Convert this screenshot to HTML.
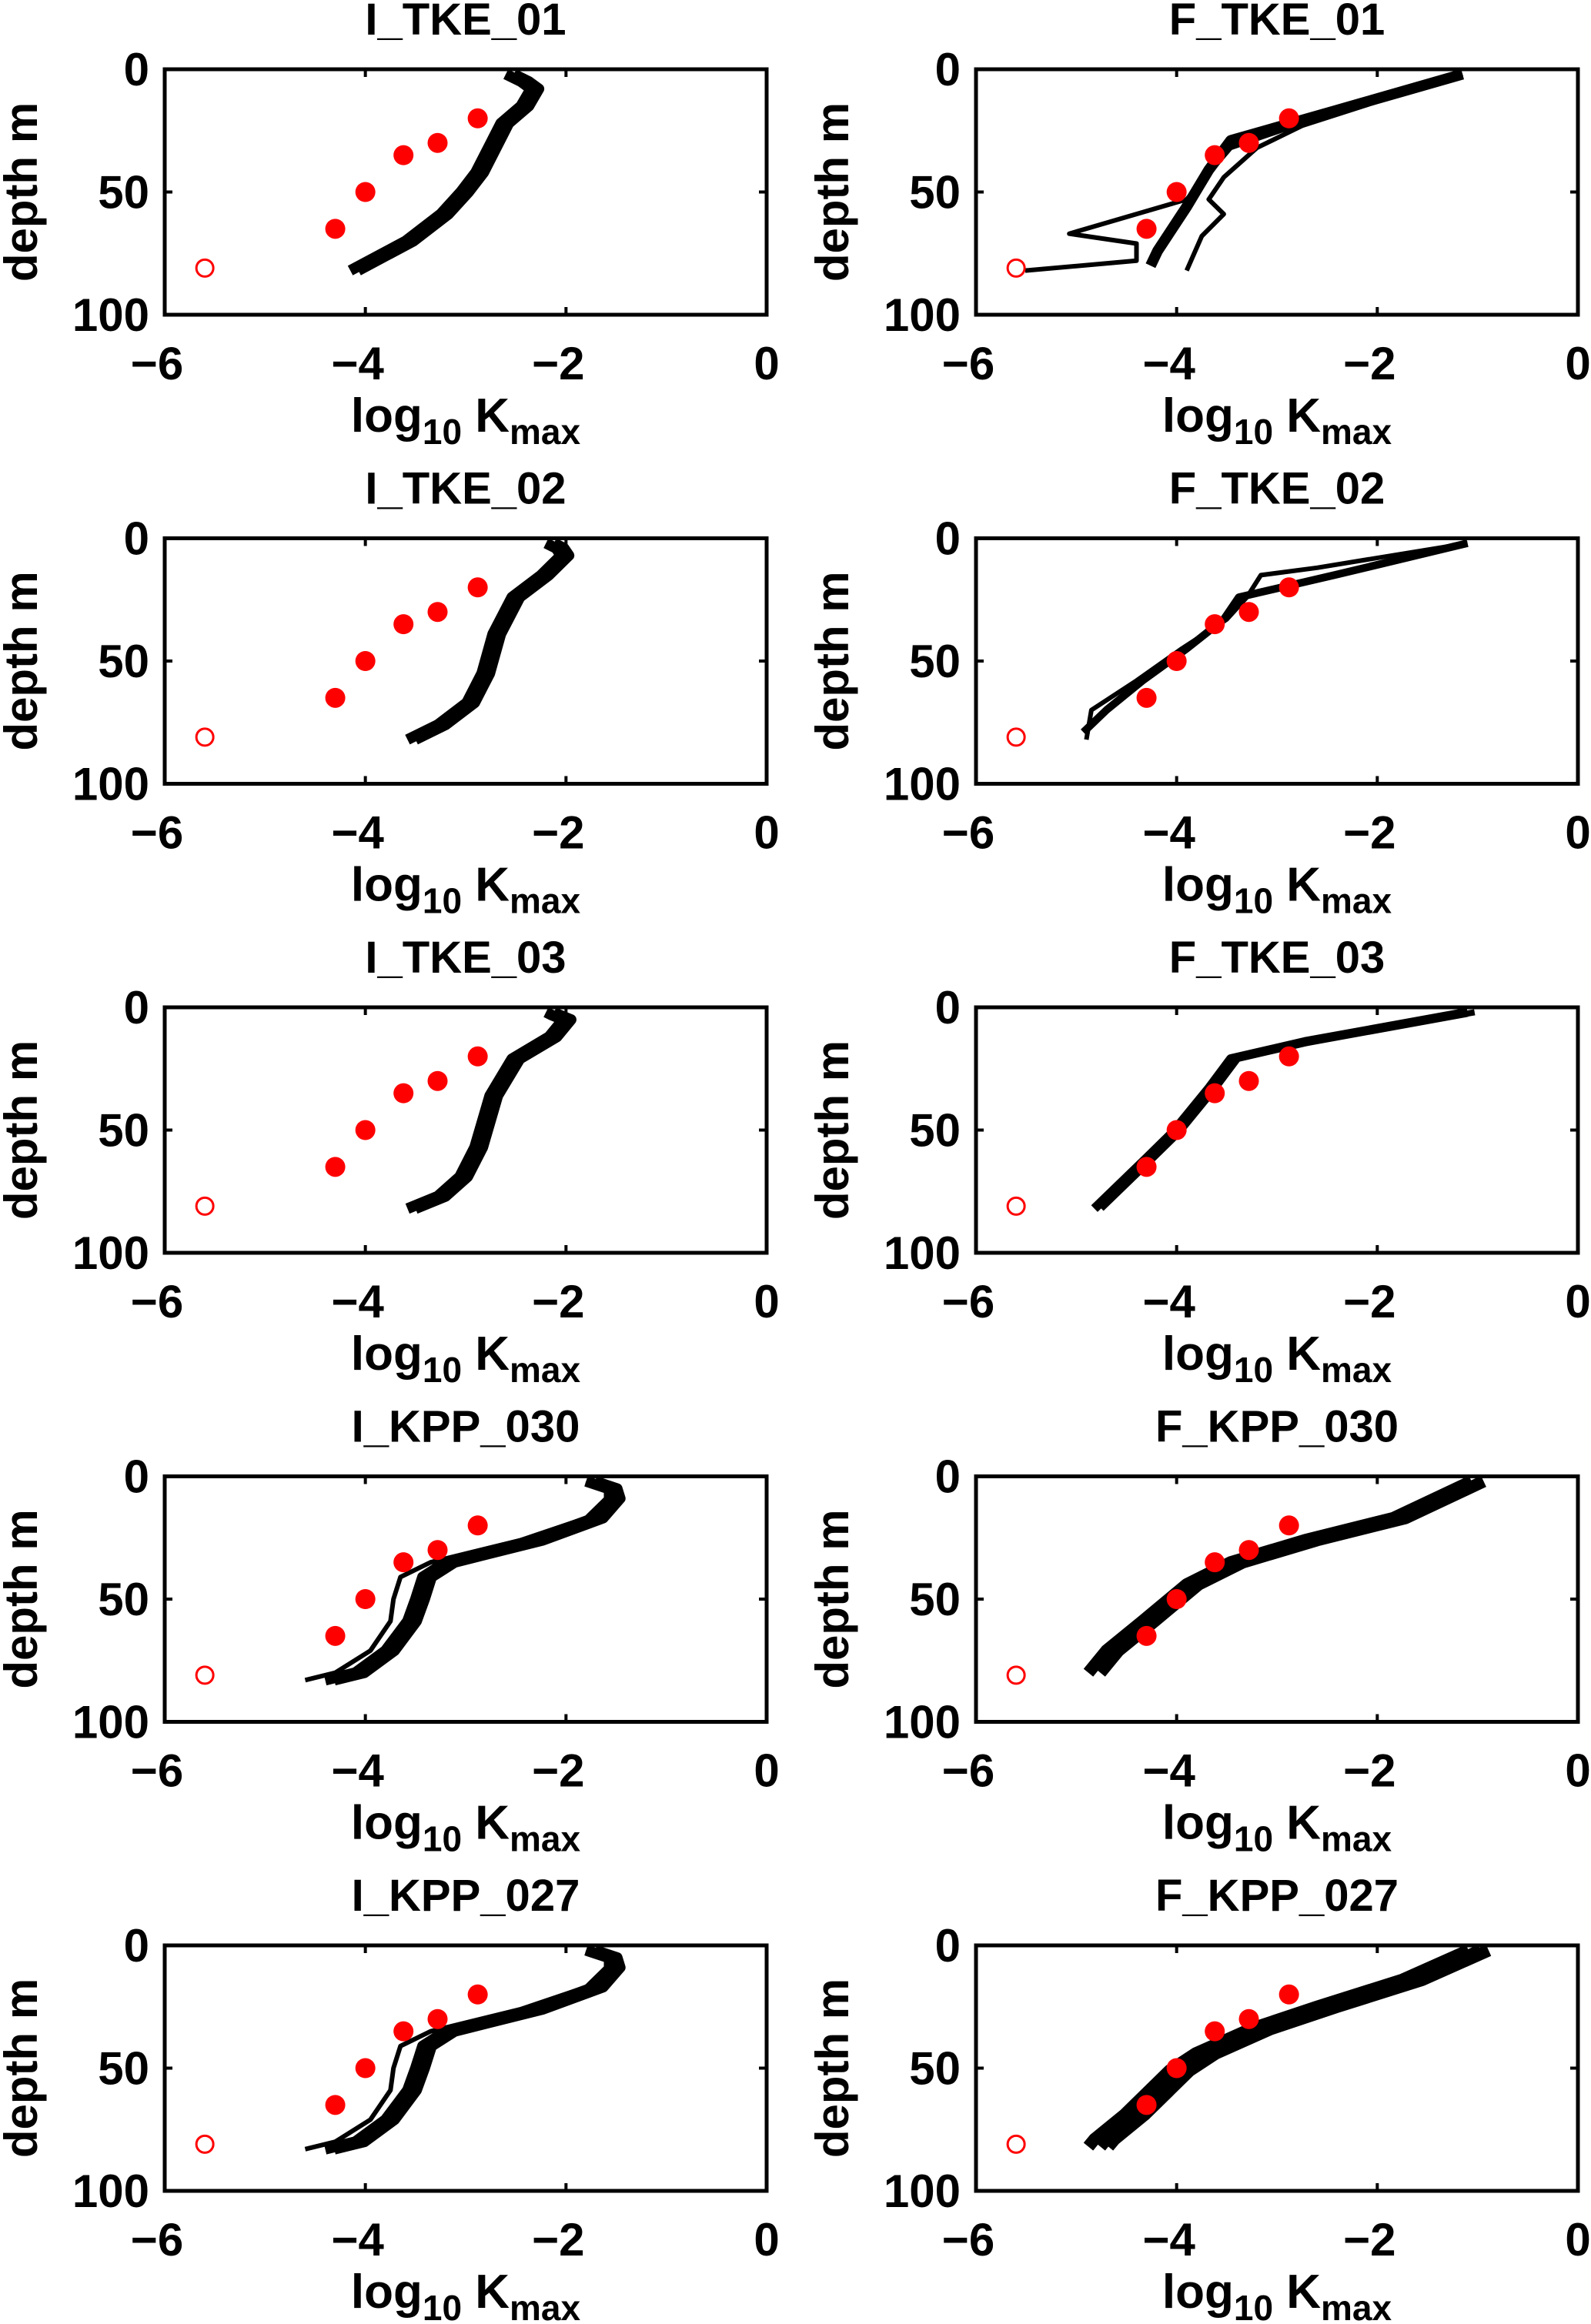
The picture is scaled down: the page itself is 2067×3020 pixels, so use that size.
<!DOCTYPE html>
<html><head><meta charset="utf-8">
<style>
html,body{margin:0;padding:0;background:#fff;}
svg{display:block;font-family:"Liberation Sans",Arial,sans-serif;font-weight:bold;}
</style></head>
<body>
<svg id="fig" width="2067" height="3020" viewBox="0 0 2067 3020" xmlns="http://www.w3.org/2000/svg"></svg>
<script>
const NS="http://www.w3.org/2000/svg";
const titles=["I_TKE_01","F_TKE_01","I_TKE_02","F_TKE_02","I_TKE_03","F_TKE_03","I_KPP_030","F_KPP_030","I_KPP_027","F_KPP_027"];
const xTicks=[-6,-4,-2,0];
const yTicks=[0,50,100];
const obsX=[-2.88,-3.28,-3.62,-4.0,-4.3];
const obsD=[20,30,35,50,65];
const openX=[-5.6];
const openD=[81];
const iTke01D=[2,5,8,15,22,30,42,50,59,70,82];
const iTke01X=[-2.6,-2.45,-2.35,-2.45,-2.65,-2.75,-2.9,-3.05,-3.25,-3.6,-4.15];
const iTke02D=[2,4,7,15,24,39,55,67,76,82];
const iTke02X=[-2.2,-2.1,-2.05,-2.25,-2.54,-2.73,-2.84,-2.99,-3.28,-3.58];
const iTke03D=[2,3,5,12,21,36,57,69,77,82];
const iTke03X=[-2.2,-2.15,-2.03,-2.17,-2.54,-2.76,-2.91,-3.06,-3.28,-3.58];
const iKppD=[2,5,9,17,26,35,41,50,59,71,80,83];
const iKppX=[-1.8,-1.58,-1.55,-1.72,-2.32,-3.2,-3.43,-3.5,-3.58,-3.8,-4.1,-4.4];
const iKppX2=[-1.8,-1.6,-1.6,-1.8,-2.45,-3.35,-3.65,-3.72,-3.75,-3.95,-4.3,-4.6];
const fTke01D=[2,17,29,41,56,74,80];
const fTke01X=[-1.15,-2.43,-3.46,-3.68,-3.9,-4.19,-4.26];
const fTke01bD=[2,23,32,44,53,59,68,82];
const fTke01bX=[-1.15,-2.75,-3.2,-3.53,-3.68,-3.53,-3.75,-3.9];
const fTke01cD=[2,20,32,53,67,71,78,82];
const fTke01cX=[-1.15,-2.6,-3.46,-3.9,-5.07,-4.4,-4.4,-5.51];
const fTke02D=[2,15,24,33,45,58,70,79];
const fTke02X=[-1.1,-2.43,-3.38,-3.53,-3.9,-4.34,-4.7,-4.93];
const fTke02bD=[2,12,15,24,33,45,58,70,82];
const fTke02bX=[-1.1,-2.6,-3.16,-3.3,-3.5,-3.95,-4.4,-4.85,-4.9];
const fTke03D=[2,14,21,33,51,63,82];
const fTke03X=[-1.1,-2.72,-3.46,-3.68,-4.04,-4.34,-4.82];
const fKpp030D=[2,17,26,35,44,59,71,80];
const fKpp030X=[-1.06,-1.84,-2.72,-3.46,-3.9,-4.34,-4.7,-4.88];
const fKpp027D=[2,14,25,34,44,51,69,79,82];
const fKpp027X=[-1.09,-1.75,-2.6,-3.26,-3.81,-4.07,-4.52,-4.82,-4.88];
const runs=[
 [[iTke01X,iTke01D,14,0],[iTke01X,iTke01D,14,0.08]],
 [[fTke01X,fTke01D,14,0],[fTke01bX,fTke01bD,6,0],[fTke01cX,fTke01cD,6,0]],
 [[iTke02X,iTke02D,14,0],[iTke02X,iTke02D,14,0.08]],
 [[fTke02X,fTke02D,10,0],[fTke02bX,fTke02bD,6,0]],
 [[iTke03X,iTke03D,14,0],[iTke03X,iTke03D,14,0.08]],
 [[fTke03X,fTke03D,12,0],[fTke03X,fTke03D,8,0.07]],
 [[iKppX,iKppD,14,0],[iKppX,iKppD,14,0.09],[iKppX2,iKppD,6,0]],
 [[fKpp030X,fKpp030D,16,0],[fKpp030X,fKpp030D,16,0.12]],
 [[iKppX,iKppD,14,0],[iKppX,iKppD,14,0.09],[iKppX2,iKppD,6,0]],
 [[fKpp027X,fKpp027D,16,0],[fKpp027X,fKpp027D,16,0.12],[fKpp027X,fKpp027D,16,0.2]]
];
const svg=document.getElementById('fig');
function mk(tag,attrs,parent){const e=document.createElementNS(NS,tag);for(const k in attrs)e.setAttribute(k,attrs[k]);(parent||svg).appendChild(e);return e;}
const W=782,H=319;
titles.forEach((t,i)=>{
 const col=i%2,row=Math.floor(i/2);
 const L=col?1268:214, T=90+row*609.5;
 const g=mk('g',{});
 
 
 const sx=x=>L+(x+6)/6*W, sy=d=>T+d/100*H;
 runs[i].forEach((r,k)=>{
   const [xs,ds,sw,sh]=r;
   const pts=xs.map((x,j)=>sx(x+sh).toFixed(1)+','+sy(ds[j]).toFixed(1)).join(' ');
   const p=mk('polyline',{points:pts,fill:'none',stroke:'#000','stroke-width':sw,'stroke-linejoin':'round'},g);
   
   
 });
 obsX.forEach((x,j)=>{const c=mk('circle',{cx:sx(x),cy:sy(obsD[j]),r:13,fill:'#f00'},g);
   
   });
 openX.forEach((x,j)=>{const c=mk('circle',{cx:sx(x),cy:sy(openD[j]),r:11,fill:'none',stroke:'#f00','stroke-width':3},g);
   
   });
 const b=mk('rect',{x:L,y:T,width:W,height:H,fill:'none',stroke:'#000','stroke-width':5},g);
 
 
 xTicks.forEach(v=>{
   mk('line',{x1:sx(v),x2:sx(v),y1:T,y2:T+10,stroke:'#000','stroke-width':4},g);
   mk('line',{x1:sx(v),x2:sx(v),y1:T+H,y2:T+H-10,stroke:'#000','stroke-width':4},g);
   const tx=mk('text',{x:sx(v)-(v<0?10:0),y:T+H+84,'text-anchor':'middle','font-size':60},g);
   tx.textContent=(v<0?'\u2212':'')+Math.abs(v);
   
   
 });
 yTicks.forEach(v=>{
   mk('line',{x1:L,x2:L+10,y1:sy(v),y2:sy(v),stroke:'#000','stroke-width':4},g);
   mk('line',{x1:L+W,x2:L+W-10,y1:sy(v),y2:sy(v),stroke:'#000','stroke-width':4},g);
   const tx=mk('text',{x:L-20,y:sy(v)+21,'text-anchor':'end','font-size':60},g);
   tx.textContent=v;
   
   
 });
 const ti=mk('text',{x:L+W/2,y:T-45,'text-anchor':'middle','font-size':58},g);
 ti.textContent=t;
 
 
 const xl=mk('text',{x:L+W/2,y:T+H+152,'text-anchor':'middle','font-size':62},g);
 xl.innerHTML='log<tspan font-size="46" dy="16">10</tspan><tspan dy="-16"> K</tspan><tspan font-size="46" dy="16">max</tspan>';
 
 
 const yx=col?1102:48, yy=T+H/2;
 const yl=mk('text',{x:yx,y:yy,'text-anchor':'middle','font-size':60,transform:`rotate(-90 ${yx} ${yy})`},g);
 yl.textContent='depth m';
 
 
});
</script>
</body></html>
